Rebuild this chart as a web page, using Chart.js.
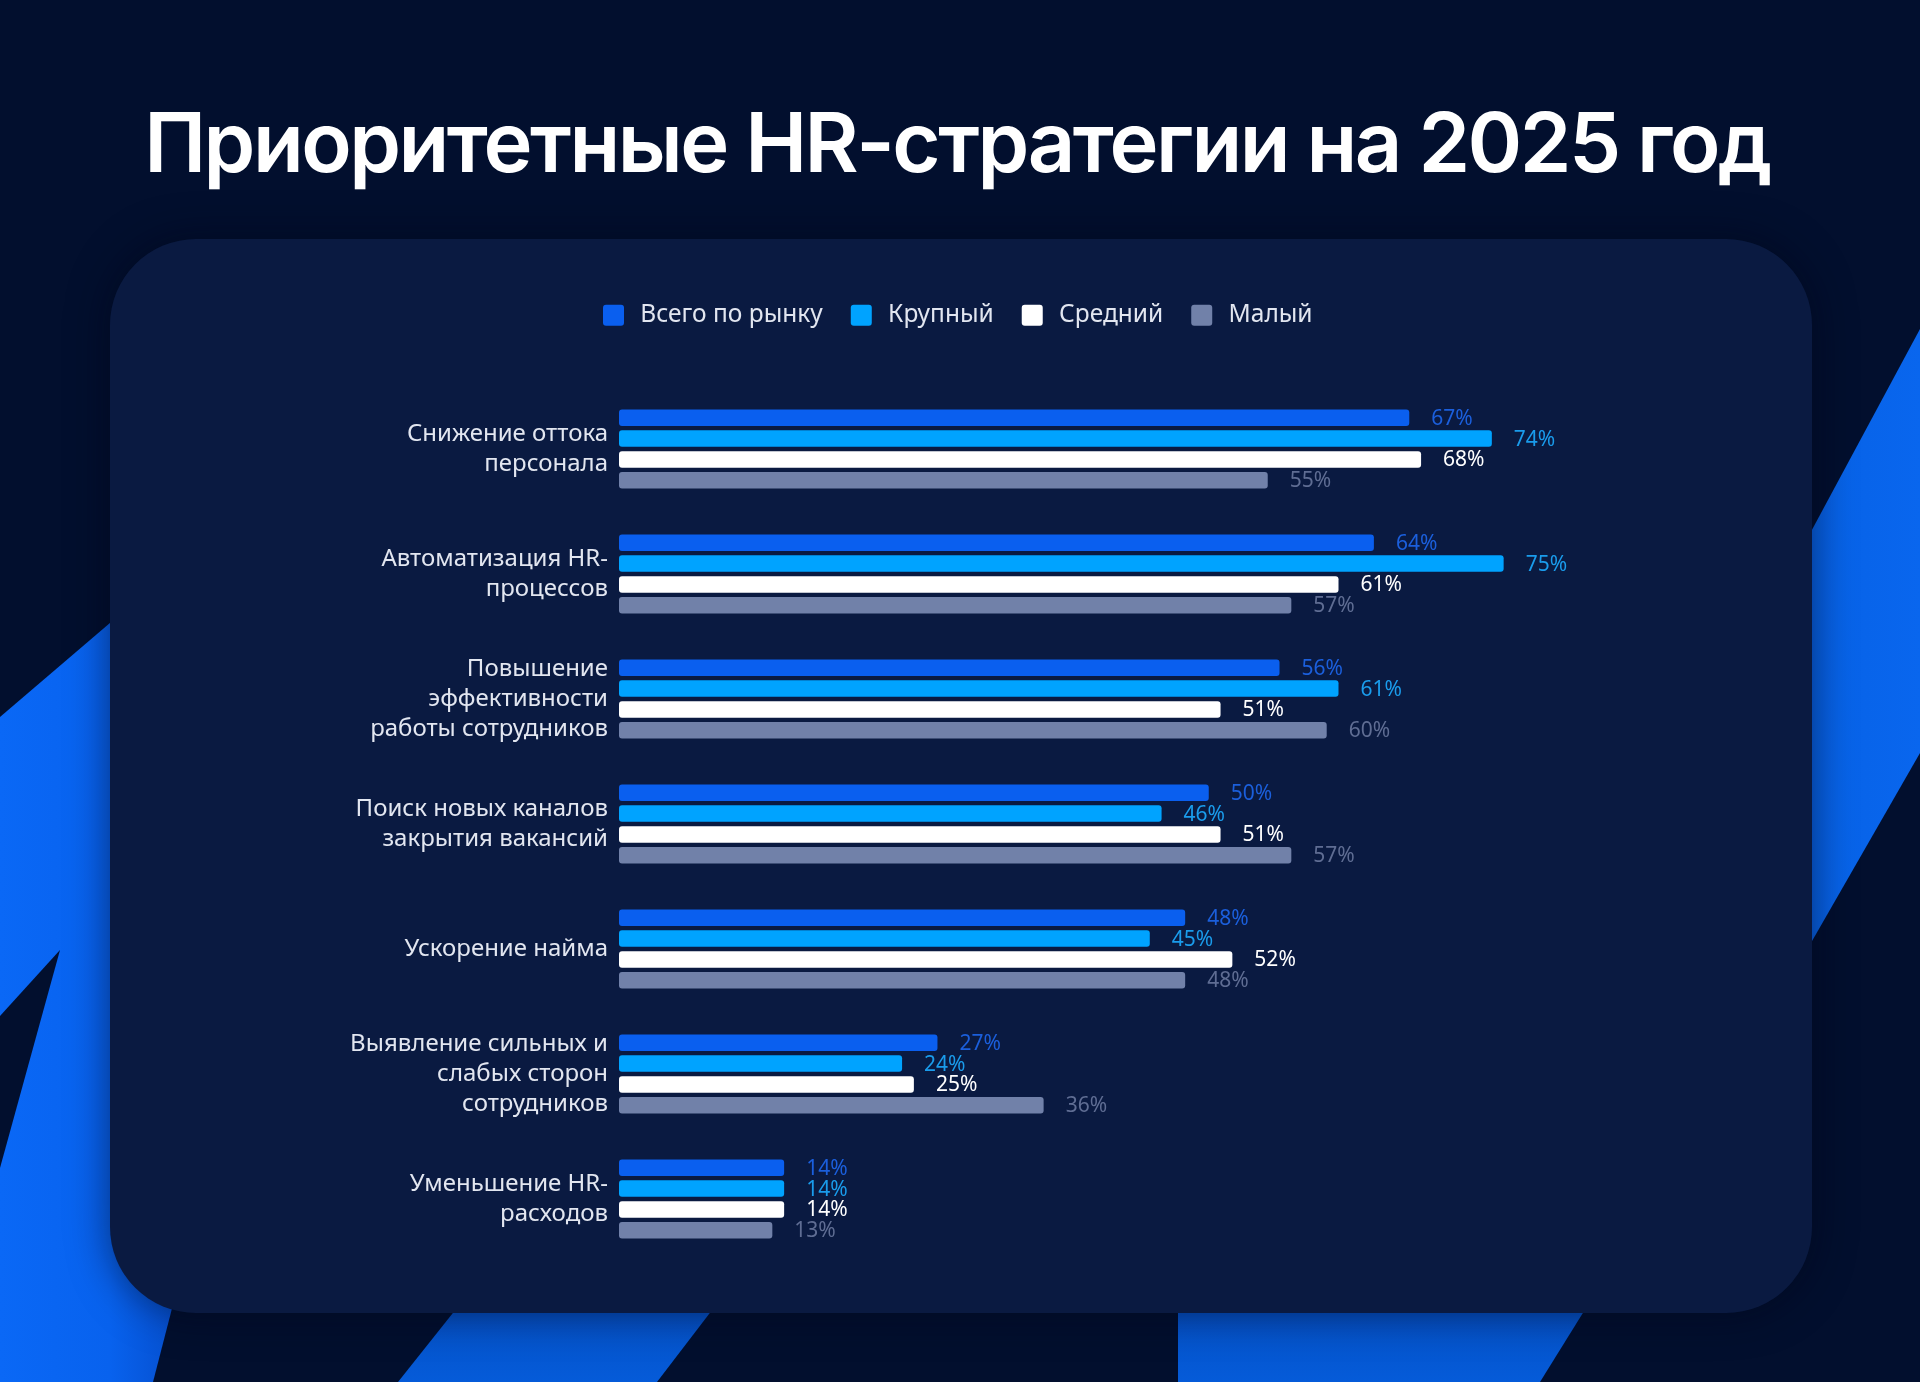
<!DOCTYPE html>
<html lang="ru">
<head>
<meta charset="utf-8">
<title>Приоритетные HR-стратегии на 2025 год</title>
<script src="https://cdn.jsdelivr.net/npm/chart.js@4.4.1/dist/chart.umd.min.js"></script>
<style>
  html, body { margin: 0; padding: 0; }
  body {
    width: 1920px; height: 1382px; overflow: hidden; position: relative;
    background: #020f2e; font-family: "Noto Sans", sans-serif;
  }
  #bg { position: absolute; left: 0; top: 0; }
  h1 {
    position: absolute; left: -3px; top: 101px; width: 1920px; margin: 0;
    text-align: center; color: #fff;
    font: 600 83px/1 "Inter", "Noto Sans", sans-serif;
    white-space: nowrap;
  }
  #panel {
    position: absolute; left: 110px; top: 239px; width: 1702px; height: 1074px;
    border-radius: 86px; background: #0a1a41;
    box-shadow: 0 0 40px rgba(0, 6, 24, 0.55);
  }
  #chartBox { position: absolute; left: 0; top: 0; width: 1702px; height: 1074px; }
</style>
</head>
<body>
<svg id="bg" width="1920" height="1382">
  <defs>
    <linearGradient id="gLeft" x1="0" y1="0" x2="1" y2="0">
      <stop offset="0" stop-color="#0a68f6"/>
      <stop offset="0.55" stop-color="#0862ee"/>
      <stop offset="1" stop-color="#0549c4"/>
    </linearGradient>
    <linearGradient id="gRight" x1="0" y1="0" x2="1" y2="0">
      <stop offset="0" stop-color="#0550c8"/>
      <stop offset="0.5" stop-color="#0762e6"/>
      <stop offset="1" stop-color="#0966ee"/>
    </linearGradient>
    <linearGradient id="gBottom" x1="0" y1="0" x2="0" y2="1">
      <stop offset="0" stop-color="#0449b8"/>
      <stop offset="1" stop-color="#055bd9"/>
    </linearGradient>
  </defs>
  <polygon points="0,717 200,546 200,1200 153,1382 0,1382" fill="url(#gLeft)"/>
  <polygon points="0,1016 60,950 0,1168" fill="#020f2e"/>
  <polygon points="1920,329 1700,738 1700,1136 1920,753" fill="url(#gRight)"/>
  <polygon points="503,1250 758,1250 657,1382 398,1382" fill="url(#gBottom)"/>
  <polygon points="1178,1250 1622,1250 1540,1382 1178,1382" fill="url(#gBottom)"/>
</svg>

<h1 id="title"><span>Приоритетные HR-стратегии на 2025 год</span></h1>

<div id="panel">
  <div id="chartBox"><canvas id="hrChart"></canvas></div>
</div>

<script>
// categories (y axis, multi-line labels)
const categories = [
  ["Снижение оттока", "персонала"],
  ["Автоматизация HR-", "процессов"],
  ["Повышение", "эффективности", "работы сотрудников"],
  ["Поиск новых каналов", "закрытия вакансий"],
  "Ускорение найма",
  ["Выявление сильных и", "слабых сторон", "сотрудников"],
  ["Уменьшение HR-", "расходов"]
];

const seriesNames = ["Всего по рынку", "Крупный", "Средний", "Малый"];

// values, %
const totalMarket = [67, 64, 56, 50, 48, 27, 14];
const largeBiz    = [74, 75, 61, 46, 45, 24, 14];
const mediumBiz   = [68, 61, 51, 51, 52, 25, 14];
const smallBiz    = [55, 57, 60, 57, 48, 36, 13];

const barColors   = ["#0a5fef", "#00a3ff", "#ffffff", "#7181a9"];
const labelColors = ["#1b5fdc", "#1a9cec", "#ffffff", "#5f6d93"];

// stretch title to the width it has in the original
(function () {
  const span = document.querySelector("#title span");
  const w = span.getBoundingClientRect().width;
  const n = span.textContent.length;
  span.style.letterSpacing = ((1628 - w) / (n - 1)) + "px";
})();

// value labels right of each bar
const valueLabels = {
  id: "valueLabels",
  afterDatasetsDraw(chart) {
    const ctx = chart.ctx;
    ctx.save();
    ctx.font = '21px "Noto Sans"';
    ctx.textBaseline = "middle";
    ctx.textAlign = "left";
    chart.data.datasets.forEach((ds, i) => {
      const meta = chart.getDatasetMeta(i);
      ctx.fillStyle = labelColors[i];
      meta.data.forEach((bar, j) => {
        ctx.fillText(ds.data[j] + "%", bar.x + 22, bar.y + 1);
      });
    });
    ctx.restore();
  }
};

// extra gap below the legend
const legendGap = {
  id: "legendGap",
  beforeInit(chart) {
    const fit = chart.legend.fit;
    chart.legend.fit = function () {
      fit.bind(chart.legend)();
      this.height = 111.5;
    };
  }
};

const series = [totalMarket, largeBiz, mediumBiz, smallBiz];

new Chart(document.getElementById("hrChart"), {
  type: "bar",
  data: {
    labels: categories,
    datasets: series.map((d, i) => ({
      label: seriesNames[i],
      data: d,
      backgroundColor: barColors[i],
      borderRadius: 3,
      borderSkipped: false,
      categoryPercentage: 0.666,
      barPercentage: 0.79
    }))
  },
  options: {
    indexAxis: "y",
    responsive: true,
    maintainAspectRatio: false,
    animation: false,
    layout: { padding: { top: 36, bottom: 51.5, left: 0, right: 6.4 } },
    scales: {
      x: { display: false, min: 0, max: 100.6 },
      y: {
        grid: { display: false },
        border: { display: false },
        afterFit(scale) { scale.width = 509; },
        ticks: {
          color: "#e2e6f0",
          padding: 3,
          font: { family: "Noto Sans", size: 24, lineHeight: 1.25 }
        }
      }
    },
    plugins: {
      legend: {
        position: "top",
        labels: {
          color: "#e2e6f0",
          boxWidth: 21,
          boxHeight: 21,
          padding: 28,
          useBorderRadius: true,
          borderRadius: 3,
          font: { family: "Noto Sans", size: 24.5 },
          generateLabels(chart) {
            const items = Chart.defaults.plugins.legend.labels.generateLabels(chart);
            items.forEach(it => { it.text = "\u2009" + it.text; });
            return items;
          }
        }
      },
      tooltip: { enabled: false }
    }
  },
  plugins: [valueLabels, legendGap]
});
</script>
</body>
</html>
